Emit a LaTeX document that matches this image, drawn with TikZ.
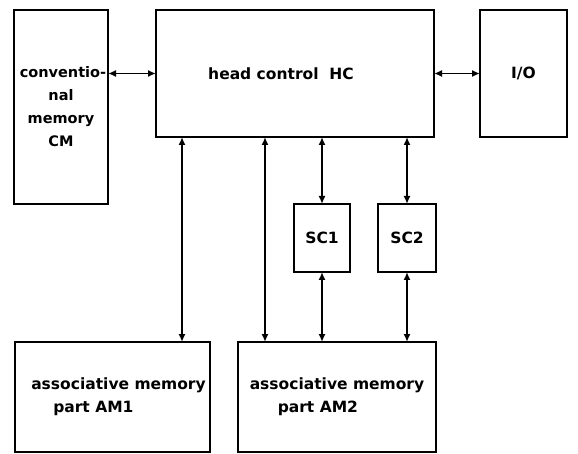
\documentclass[tikz,border=0pt]{standalone}
\usepackage{fontspec}
\setmainfont{DejaVu Sans}
\usetikzlibrary{arrows.meta}

\begin{document}
\begin{tikzpicture}[x=1pt, y=-1pt, line width=2pt,
	every node/.style={font=\fontsize{15.5}{23}\selectfont\bfseries},
	blk/.style={draw, rectangle, inner sep=0pt, outer sep=0pt, anchor=north west},
	link/.style={<->, line width=1.6pt, >={Latex[length=8pt,width=7pt]}}]
	\useasboundingbox (0,0) rectangle (578,454);
	% boxes, corners and sizes in the same units
	\node[blk, minimum width=94, minimum height=194, align=center, font=\fontsize{14.5}{23}\selectfont\bfseries] (cm) at (14,10) {\hspace*{4pt}conventio-\\nal\\memory\\CM};
	\node[blk, minimum width=278, minimum height=127] (hc) at (156,10) {head control\ \ HC\hspace*{28pt}};
	\node[blk, minimum width=87, minimum height=127] (io) at (480,10) {I/O};
	\node[blk, minimum width=56, minimum height=68] (sc1) at (294,204) {SC1};
	\node[blk, minimum width=58, minimum height=68] (sc2) at (378,204) {SC2};
	\node[blk, minimum width=195, minimum height=110, align=left] (am1) at (15,342) {\hspace*{12pt}associative memory\\\hspace*{34pt}part AM1};
	\node[blk, minimum width=198, minimum height=110, align=left] (am2) at (238,342) {associative memory\\\hspace*{28pt}part AM2};

	\coordinate (b1) at (182,0);
	\coordinate (b2) at (265,0);

	\draw[link] (cm.east |- hc.west) -- (hc.west);
	\draw[link] (hc.east) -- (io.west);
	\draw[link] (hc.south -| b1) -- (am1.north -| b1);
	\draw[link] (hc.south -| b2) -- (am2.north -| b2);
	\foreach \s in {sc1, sc2}
	{
		\draw[link] (hc.south -| \s.north) -- (\s.north);
		\draw[link] (\s.south) -- (am2.north -| \s.south);
	}
\end{tikzpicture}
\end{document}
